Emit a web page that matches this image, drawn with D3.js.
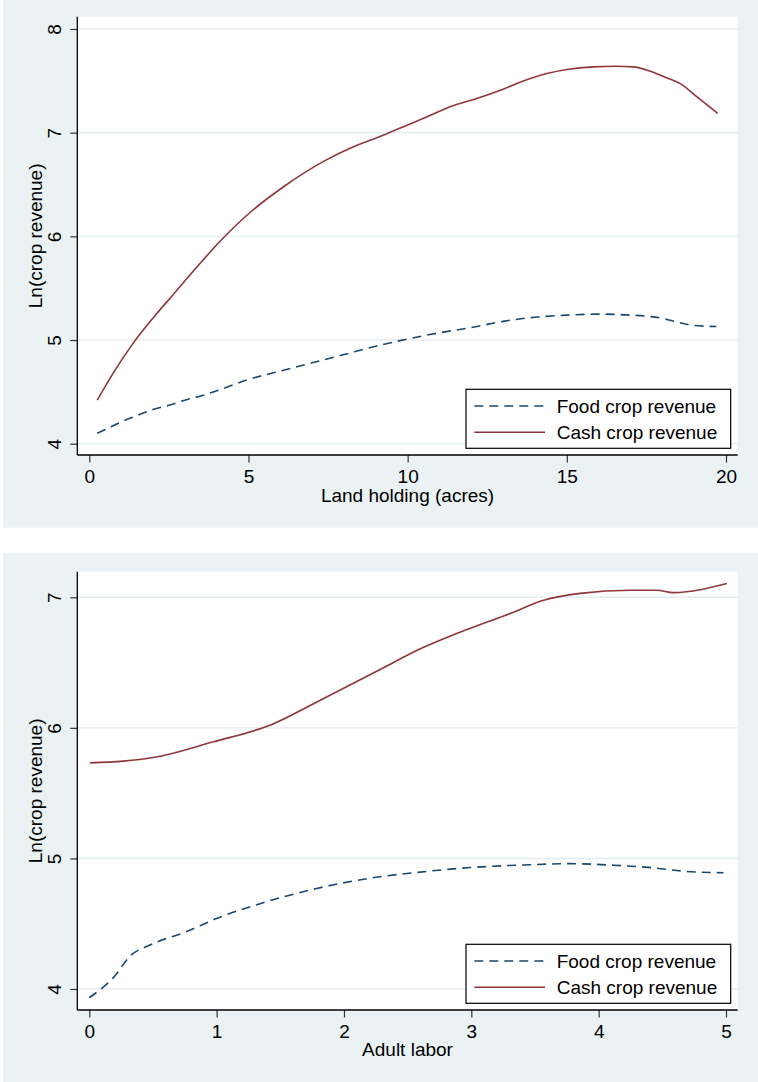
<!DOCTYPE html>
<html>
<head>
<meta charset="utf-8">
<script src="https://cdn.jsdelivr.net/npm/d3@7"></script>
<style>
  body { margin: 0; background: #ffffff; }
  text { font-family: "Liberation Sans", Arial, sans-serif; fill: #000; }
</style>
</head>
<body>
<div id="chart"></div>
<script>
//data for panel 1: land holding
var landX = [0.25, 0.6, 1, 1.4, 2, 2.5, 3, 3.5, 4, 5, 6, 7, 8, 9, 10, 11, 12, 13, 14, 15, 16, 17, 17.5, 18, 18.5, 19, 19.7];
var landFood = [4.10, 4.15, 4.21, 4.26, 4.33, 4.37, 4.42, 4.46, 4.51, 4.62, 4.70, 4.78, 4.86, 4.94, 5.01, 5.07, 5.12, 5.18, 5.22, 5.24, 5.25, 5.24, 5.23, 5.21, 5.17, 5.14, 5.13];

var landCashX = [0.25, 0.75, 1.38, 2.01, 2.64, 3.27, 4.10, 5.05, 6.09, 7.46, 8.19, 9.23, 10, 10.7, 11.33, 12.17, 13, 13.74, 14.37, 15, 15.83, 16.56, 17.09, 17.6, 18.13, 18.55, 19.15, 19.74];
var landCash = [4.42, 4.68, 4.97, 5.215, 5.44, 5.665, 5.95, 6.23, 6.476, 6.74, 6.85, 6.975, 7.075, 7.166, 7.25, 7.33, 7.42, 7.51, 7.57, 7.61, 7.635, 7.64, 7.635, 7.595, 7.53, 7.475, 7.33, 7.185];

//data for panel 2: adult labor
var laborFoodX = [0, 0.2, 0.32, 0.477, 0.765, 1.0, 1.39, 1.786, 2.284, 2.545, 2.99, 3.41, 3.776, 4.116, 4.43, 4.69, 4.98];
var laborFood = [3.933, 4.10, 4.252, 4.337, 4.44, 4.54, 4.668, 4.77, 4.86, 4.89, 4.93, 4.95, 4.96, 4.948, 4.928, 4.90, 4.89];

var laborCashX = [0.005, 0.267, 0.503, 0.974, 1.433, 1.81, 2.284, 2.56, 2.94, 3.305, 3.567, 3.855, 4.25, 4.457, 4.588, 5.007];
var laborCash = [5.732, 5.745, 5.773, 5.893, 6.026, 6.21, 6.447, 6.587, 6.743, 6.876, 6.978, 7.03, 7.054, 7.054, 7.036, 7.105];

//tick labels
var landTicks = [0, 5, 10, 15, 20];
var landYTicks = [4, 5, 6, 7, 8];
var laborTicks = [0, 1, 2, 3, 4, 5];
var laborYTicks = [4, 5, 6, 7];

var seriesNames = ["Food crop revenue", "Cash crop revenue"];
var navy = "#1a476f";
var maroon = "#90353b";

var width = 758;
var height = 1082;
var svg = d3.select("#chart").append("svg").attr("width", width).attr("height", height);

//draws one stata-style panel
function drawPanel(p) {
    var g = svg.append("g");

    //outer graph region
    g.append("rect").attr("x", 3).attr("y", p.bgTop).attr("width", width - 3)
        .attr("height", p.bgBottom - p.bgTop).attr("fill", "#eaf2f3");

    //plot region
    g.append("rect").attr("x", 77.3).attr("y", p.top).attr("width", 737.7 - 77.3)
        .attr("height", p.bottom - p.top).attr("fill", "#ffffff");

    var x = d3.scaleLinear().domain(p.xDomain).range([89.3, 726]);
    var y = d3.scaleLinear().domain(p.yDomain).range(p.yRange);

    //gridlines
    g.selectAll(".grid").data(p.yTicks).enter().append("line")
        .attr("x1", 77.3).attr("x2", 737.7)
        .attr("y1", function(d) { return y(d); }).attr("y2", function(d) { return y(d); })
        .attr("stroke", "#e4edf0").attr("stroke-width", 1.4);

    //lines
    var line = d3.line().x(function(d) { return x(d[0]); }).y(function(d) { return y(d[1]); })
        .curve(d3.curveMonotoneX);
    g.append("path").datum(d3.zip(p.foodX, p.food)).attr("d", line)
        .attr("fill", "none").attr("stroke", navy).attr("stroke-width", 1.6)
        .attr("stroke-dasharray", "9,6");
    g.append("path").datum(d3.zip(p.cashX, p.cash)).attr("d", line)
        .attr("fill", "none").attr("stroke", maroon).attr("stroke-width", 1.6);

    //y axis
    var yAxis = g.append("g").attr("transform", "translate(77.3,0)")
        .call(d3.axisLeft(y).tickValues(p.yTicks).tickFormat(d3.format("d")).tickSize(7).tickSizeOuter(0));
    yAxis.select(".domain").remove();
    yAxis.selectAll(".tick line").attr("stroke", "#333").attr("stroke-width", 1.2);
    yAxis.selectAll(".tick text").attr("x", null).attr("dy", null)
        .attr("transform", "translate(-16,0) rotate(-90)")
        .attr("text-anchor", "middle").style("font-size", "19px")
        .style("font-family", "'Liberation Sans', Arial, sans-serif").attr("fill", "#000");

    //x axis
    var xAxis = g.append("g").attr("transform", "translate(0," + p.bottom + ")")
        .call(d3.axisBottom(x).tickValues(p.xTicks).tickFormat(d3.format("d")).tickSize(7.5).tickSizeOuter(0));
    xAxis.select(".domain").remove();
    xAxis.selectAll(".tick line").attr("stroke", "#333").attr("stroke-width", 1.2);
    xAxis.selectAll(".tick text").attr("y", 27.5).attr("dy", null)
        .style("font-size", "19px").style("font-family", "'Liberation Sans', Arial, sans-serif")
        .attr("fill", "#000");

    //axis lines
    g.append("line").attr("x1", 77.3).attr("x2", 77.3).attr("y1", p.top).attr("y2", p.bottom)
        .attr("stroke", "#000").attr("stroke-width", 1.3);
    g.append("line").attr("x1", 77.3).attr("x2", 737.7).attr("y1", p.bottom).attr("y2", p.bottom)
        .attr("stroke", "#000").attr("stroke-width", 1.3);

    //axis titles
    g.append("text").attr("transform", "translate(41.5," + ((p.top + p.bottom) / 2) + ") rotate(-90)")
        .attr("text-anchor", "middle").style("font-size", "19px").text("Ln(crop revenue)");
    g.append("text").attr("x", 407.5).attr("y", p.bottom + p.titleOffset)
        .attr("text-anchor", "middle").style("font-size", "19px").text(p.xTitle);

    //legend
    var ly = p.bottom - 65.7;
    var legend = g.append("g").attr("transform", "translate(466," + ly + ")");
    legend.append("rect").attr("x", 0).attr("y", 0).attr("width", 264.7).attr("height", 59)
        .attr("fill", "#fff").attr("stroke", "#000").attr("stroke-width", 1.2);
    var styles = [{ c: navy, dash: "9,6" }, { c: maroon, dash: null }];
    seriesNames.forEach(function(name, i) {
        var yy = 16.7 + i * 26.3;
        legend.append("line").attr("x1", 8.3).attr("x2", 79).attr("y1", yy).attr("y2", yy)
            .attr("stroke", styles[i].c).attr("stroke-width", 1.6)
            .attr("stroke-dasharray", styles[i].dash);
        legend.append("text").attr("x", 90.7).attr("y", yy + 7).style("font-size", "19px").text(name);
    });
}

drawPanel({
    bgTop: 0, bgBottom: 527.7, top: 16.7, bottom: 455,
    xDomain: [0, 20], yDomain: [4, 8], yRange: [443.7, 29],
    xTicks: landTicks, yTicks: landYTicks,
    foodX: landX, food: landFood, cashX: landCashX, cash: landCash,
    xTitle: "Land holding (acres)", titleOffset: 46.5
});

drawPanel({
    bgTop: 552.7, bgBottom: 1082, top: 571.7, bottom: 1010,
    xDomain: [0, 5], yDomain: [4, 7], yRange: [989, 597.3],
    xTicks: laborTicks, yTicks: laborYTicks,
    foodX: laborFoodX, food: laborFood, cashX: laborCashX, cash: laborCash,
    xTitle: "Adult labor", titleOffset: 45.5
});
</script>
</body>
</html>
